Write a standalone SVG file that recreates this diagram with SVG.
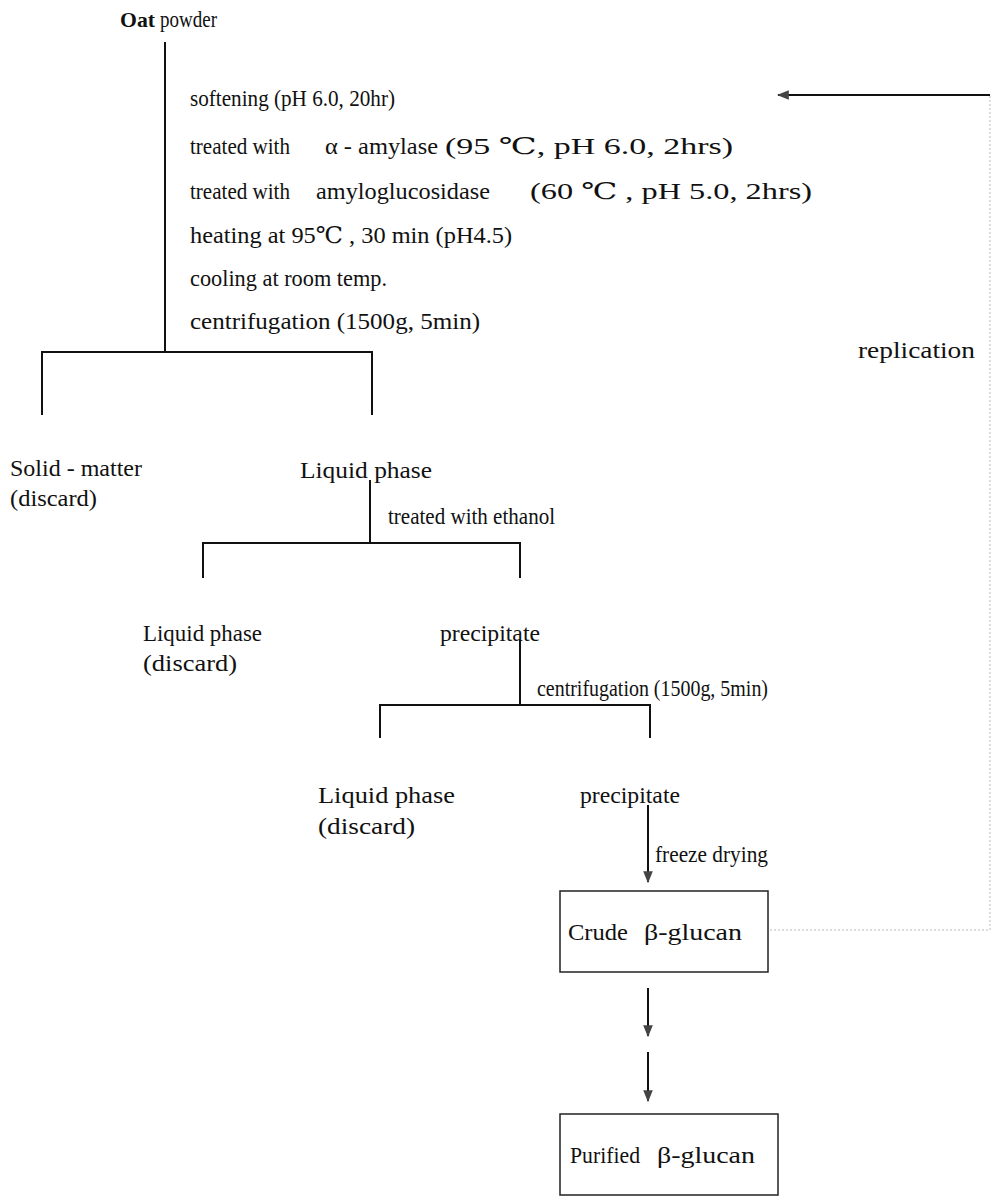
<svg xmlns="http://www.w3.org/2000/svg" width="993" height="1197" viewBox="0 0 993 1197">
<style>
text{font-family:"Liberation Serif","DejaVu Serif",serif;font-size:23px;fill:#111;}
.b{font-weight:bold;}
.ln{stroke:#111;stroke-width:2;fill:none;}
.faint{stroke:#bbb;stroke-width:1;fill:none;stroke-dasharray:2 2;}
.box{fill:none;stroke:#222;stroke-width:1.5;}
</style>
<defs>
<marker id="ah" viewBox="0 0 10 10" refX="9" refY="5" markerWidth="6" markerHeight="6" orient="auto">
<path d="M0,1 L10,5 L0,9 z" fill="#444"/>
</marker>
</defs>
<rect width="993" height="1197" fill="#fff"/>
<g id="connectors">
<line class="ln" x1="165" y1="42" x2="165" y2="352"/>
<polyline class="ln" points="42,415 42,352 372,352 372,415"/>
<line class="ln" x1="370" y1="480" x2="370" y2="543"/>
<polyline class="ln" points="203,578 203,543 520,543 520,578"/>
<line class="ln" x1="520" y1="640" x2="520" y2="705"/>
<polyline class="ln" points="380,738 380,705 650,705 650,738"/>
<line class="ln" x1="648" y1="805" x2="648" y2="882" marker-end="url(#ah)"/>
<line class="ln" x1="648" y1="988" x2="648" y2="1036" marker-end="url(#ah)"/>
<line class="ln" x1="648" y1="1052" x2="648" y2="1101" marker-end="url(#ah)"/>
<polyline class="faint" points="770,930 990,930 990,95"/>
<line class="ln" x1="990" y1="95" x2="778" y2="95" marker-end="url(#ah)"/>
</g>
<g id="oat">
<text x="120" y="27" class="b" style="font-size:22px" textLength="35" lengthAdjust="spacingAndGlyphs">Oat</text>
<text x="160" y="27" textLength="57" lengthAdjust="spacingAndGlyphs">powder</text>
</g>
<g id="steps">
<text x="190" y="106" textLength="205" lengthAdjust="spacingAndGlyphs">softening (pH 6.0, 20hr)</text>
<text x="190" y="154"><tspan textLength="100" lengthAdjust="spacingAndGlyphs">treated with</tspan><tspan x="325" textLength="113" lengthAdjust="spacingAndGlyphs">α - amylase</tspan><tspan x="445" textLength="288" lengthAdjust="spacingAndGlyphs">(95 ℃,  pH 6.0, 2hrs)</tspan></text>
<text x="190" y="199"><tspan textLength="100" lengthAdjust="spacingAndGlyphs">treated with</tspan><tspan x="316" textLength="174" lengthAdjust="spacingAndGlyphs">amyloglucosidase</tspan><tspan x="530" textLength="282" lengthAdjust="spacingAndGlyphs">(60 ℃ , pH 5.0, 2hrs)</tspan></text>
<text x="190" y="243" textLength="322" lengthAdjust="spacingAndGlyphs">heating at 95℃ , 30 min (pH4.5)</text>
<text x="190" y="286" textLength="197" lengthAdjust="spacingAndGlyphs">cooling at room temp.</text>
<text x="190" y="329" textLength="290" lengthAdjust="spacingAndGlyphs">centrifugation (1500g, 5min)</text>
</g>
<g id="replication">
<text x="858" y="358" textLength="117" lengthAdjust="spacingAndGlyphs">replication</text>
</g>
<g id="solid">
<text x="10" y="476" textLength="132" lengthAdjust="spacingAndGlyphs">Solid  - matter</text>
<text x="10" y="506" textLength="87" lengthAdjust="spacingAndGlyphs">(discard)</text>
</g>
<g id="liquid1">
<text x="300" y="478" textLength="132" lengthAdjust="spacingAndGlyphs">Liquid phase</text>
<text x="388" y="524" textLength="167" lengthAdjust="spacingAndGlyphs">treated with ethanol</text>
</g>
<g id="liquid2">
<text x="143" y="641" textLength="119" lengthAdjust="spacingAndGlyphs">Liquid phase</text>
<text x="143" y="671" textLength="94" lengthAdjust="spacingAndGlyphs">(discard)</text>
</g>
<g id="precip1">
<text x="440" y="641" textLength="100" lengthAdjust="spacingAndGlyphs">precipitate</text>
<text x="537" y="696" textLength="231" lengthAdjust="spacingAndGlyphs">centrifugation (1500g, 5min)</text>
</g>
<g id="liquid3">
<text x="318" y="803" textLength="137" lengthAdjust="spacingAndGlyphs">Liquid phase</text>
<text x="318" y="834" textLength="97" lengthAdjust="spacingAndGlyphs">(discard)</text>
</g>
<g id="precip2">
<text x="580" y="803" textLength="100" lengthAdjust="spacingAndGlyphs">precipitate</text>
<text x="655" y="862" textLength="113" lengthAdjust="spacingAndGlyphs">freeze drying</text>
</g>
<g id="crude">
<rect class="box" x="560" y="891" width="208" height="81"/>
<text x="568" y="940"><tspan textLength="60" lengthAdjust="spacingAndGlyphs">Crude</tspan><tspan x="644" textLength="98" lengthAdjust="spacingAndGlyphs">β-glucan</tspan></text>
</g>
<g id="purified">
<rect class="box" x="560" y="1114" width="218" height="81"/>
<text x="570" y="1163"><tspan textLength="70" lengthAdjust="spacingAndGlyphs">Purified</tspan><tspan x="657" textLength="98" lengthAdjust="spacingAndGlyphs">β-glucan</tspan></text>
</g>
</svg>
